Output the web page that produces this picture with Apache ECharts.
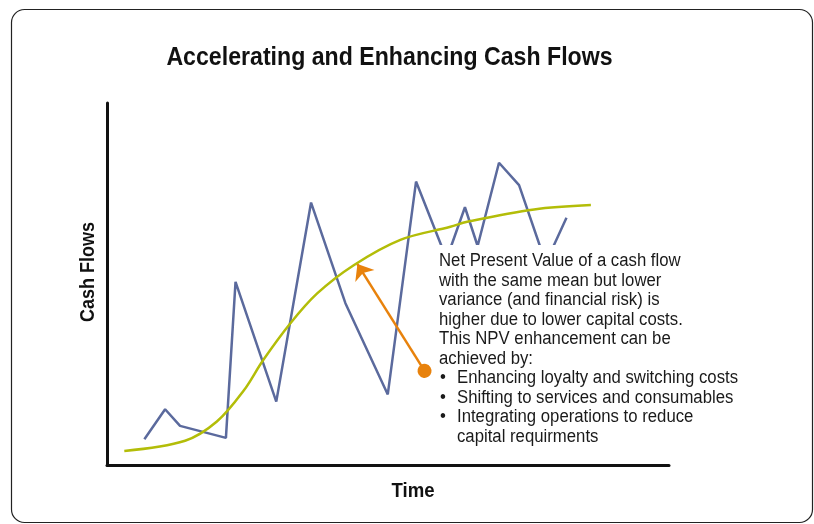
<!DOCTYPE html>
<html><head><meta charset="utf-8">
<script src="https://cdn.jsdelivr.net/npm/echarts@6/dist/echarts.min.js"></script>
<style>html,body{margin:0;padding:0;background:#fff}#c{width:814px;height:524px}</style>
</head><body><div id="c"></div>
<script>
// Data (x = time units 0-100, y = cash flow units 0-100)
const cashFlowX = [6.65,10.34,13.0,21.16,22.87,30.12,36.31,42.42,49.96,54.99,60.43,63.69,65.95,69.75,73.32,78.07,81.76];
const cashFlowY = [7.1,15.4,10.8,7.5,50.6,17.5,72.5,44.7,19.5,78.3,56.9,71.2,60.5,83.5,77.3,55.8,68.3];
const smoothX = [3.08,13.9,19.55,24.3,27.8,32.6,37.4,43.9,52.2,61.1,64.1,76.0,86.1];
const smoothY = [3.9,6.7,12.0,20.5,29.0,39.1,47.4,55.2,62.2,65.8,67.2,70.6,71.8];
const arrowFrom = [56.5, 26.0];
const arrowTo = [44.56, 55.5];
const titleText = 'Accelerating and Enhancing Cash Flows';
const xName = 'Time';
const yName = 'Cash Flows';
const noteLines = ['Net Present Value of a cash flow','with the same mean but lower','variance (and financial risk) is','higher due to lower capital costs.','This NPV enhancement can be','achieved by:'];
const bulletLines = ['Enhancing loyalty and switching costs','Shifting to services and consumables','Integrating operations to reduce'];
const bulletCont = ['capital requirments'];

const pairs = (xs, ys) => xs.map((x, i) => [x, ys[i]]);
const chart = echarts.init(document.getElementById('c'));
const fam = '"Liberation Sans", Arial, sans-serif';
const bodyFont = '18px ' + fam;
const lh = 19.5, tx = 439, ty0 = 261.5, sx = 0.93;
const txt = (t, x, y, extra) => Object.assign({type:'text', z:101, x:x, y:y, scaleX:sx,
  style:{text:t, font:bodyFont, fill:'#1a1a1a', verticalAlign:'middle'}}, extra || {});
const textEls = [];
noteLines.forEach((t, i) => textEls.push(txt(t, tx, ty0 + i*lh)));
bulletLines.forEach((t, i) => {
  const y = ty0 + (noteLines.length + i)*lh;
  textEls.push(txt('•', tx+1, y));
  textEls.push(txt(t, tx+18, y));
});
bulletCont.forEach((t, i) => textEls.push(txt(t, tx+18, ty0 + (noteLines.length + bulletLines.length + i)*lh)));

chart.setOption({
  animation: false,
  backgroundColor: '#fff',
  grid: {left:107, right:145, top:103, bottom:59},
  xAxis: {type:'value', min:0, max:100,
    axisLine:{show:true, onZero:false, lineStyle:{color:'#111', width:3}}, axisTick:{show:false}, axisLabel:{show:false}, splitLine:{show:false}},
  yAxis: {type:'value', min:0, max:100,
    axisLine:{show:true, onZero:false, lineStyle:{color:'#111', width:3}}, axisTick:{show:false}, axisLabel:{show:false}, splitLine:{show:false}},
  series: [
    {type:'line', data:pairs(cashFlowX, cashFlowY), symbol:'none', lineStyle:{color:'#5b6a9d', width:2.5}, z:3},
    {type:'line', data:pairs(smoothX, smoothY), symbol:'none', smooth:0.35, lineStyle:{color:'#b3bd08', width:2.5}, z:4,
      markLine:{silent:true, symbol:['circle','arrow'], symbolSize:[17,14], label:{show:false},
        lineStyle:{color:'#e8820c', width:2.5, type:'solid'},
        data:[[{coord:arrowFrom}, {coord:arrowTo}]]}}
  ],
  graphic: [
    {type:'rect', z:100, shape:{x:437, y:245, width:330, height:207}, style:{fill:'#fff'}},
    {type:'rect', z:200, shape:{x:11.5, y:9.5, width:801, height:513, r:13}, style:{fill:'none', stroke:'#222', lineWidth:1.2}},
    {type:'text', z:101, x:389.5, y:58, scaleX:0.89, style:{text:titleText, font:'bold 26px ' + fam, fill:'#111', align:'center', verticalAlign:'middle'}},
    {type:'text', z:101, x:413, y:491, scaleX:0.93, style:{text:xName, font:'bold 20px ' + fam, fill:'#111', align:'center', verticalAlign:'middle'}},
    {type:'text', z:101, x:88, y:272, rotation:Math.PI/2, scaleX:0.9, style:{text:yName, font:'bold 20px ' + fam, fill:'#111', align:'center', verticalAlign:'middle'}}
  ].concat(textEls)
});
</script></body></html>
